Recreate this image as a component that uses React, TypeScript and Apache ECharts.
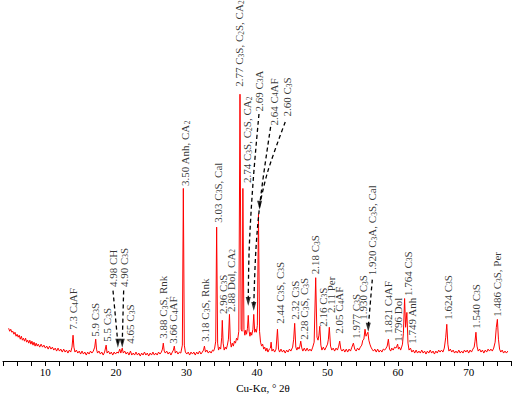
import React, { useEffect, useRef } from "react";
import * as echarts from "echarts";

// Diffractogram, intensity in arbitrary units, 2θ in degrees
const segA: [number, number][] = [
  [4.8, 33], [4.95, 30], [5.1, 32], [5.25, 29], [5.4, 30], [5.55, 27], [5.7, 29], [5.85, 25], [6.0, 27], [6.15, 24],
  [6.3, 26], [6.45, 22], [6.6, 25], [6.75, 21], [6.9, 23], [7.05, 20], [7.2, 23], [7.35, 19], [7.5, 21], [7.65, 18],
  [7.8, 21], [7.95, 17], [8.1, 20], [8.25, 16], [8.4, 19], [8.55, 15], [8.7, 18], [8.85, 15], [9.0, 17], [9.2, 14],
  [9.4, 17], [9.6, 14], [9.8, 16], [10.0, 13], [10.2, 15], [10.4, 12], [10.6, 15], [10.8, 12], [11.0, 14], [11.2, 11],
  [11.4, 13], [11.6, 10], [11.8, 13], [12.0, 10], [12.2, 12], [12.4, 9], [12.6, 12], [12.8, 9], [13.0, 11], [13.2, 8],
  [13.4, 11], [13.6, 9], [13.78, 14], [13.93, 26], [14.05, 14], [14.2, 9], [14.4, 11], [14.6, 8], [14.8, 10], [15.0, 7],
  [15.2, 10], [15.4, 7], [15.6, 9], [15.8, 6], [16.0, 9], [16.2, 7], [16.4, 10], [16.6, 8], [16.8, 10], [17.0, 14],
  [17.14, 22], [17.25, 12], [17.4, 8], [17.6, 10], [17.8, 7], [18.0, 9], [18.2, 6], [18.4, 9], [18.62, 16], [18.75, 8],
  [18.95, 10], [19.15, 7], [19.35, 9], [19.55, 6], [19.75, 9], [19.95, 7],
];
const segB: [number, number][] = [
  [20.15, 9], [20.35, 8], [20.55, 12], [20.7, 8], [20.9, 13], [21.05, 8], [21.25, 10], [21.45, 7], [21.65, 9], [21.85, 6],
  [22.07, 10], [22.25, 6], [22.45, 8], [22.65, 6], [22.85, 9], [23.05, 6], [23.25, 8], [23.45, 5], [23.65, 8], [23.85, 6],
  [24.05, 9], [24.25, 6], [24.45, 8], [24.65, 5], [24.85, 8], [25.05, 6], [25.25, 9], [25.45, 6], [25.65, 8], [25.85, 6],
  [26.05, 9], [26.25, 7], [26.45, 9], [26.6, 12], [26.72, 18], [26.85, 10], [27.0, 8], [27.2, 10], [27.4, 7], [27.6, 9],
  [27.8, 6], [28.0, 9], [28.15, 11], [28.28, 15], [28.42, 8], [28.6, 10], [28.8, 7], [29.0, 9], [29.2, 8], [29.42, 16],
  [29.56, 174], [29.7, 16], [29.85, 9], [30.05, 7], [30.25, 9], [30.45, 6], [30.65, 9], [30.85, 7], [31.05, 9], [31.25, 6],
  [31.45, 9], [31.65, 7], [31.85, 10], [32.05, 7], [32.25, 9], [32.42, 11], [32.55, 15], [32.7, 9], [32.9, 11], [33.1, 8],
  [33.3, 10], [33.5, 8], [33.7, 11], [33.85, 10],
];
const segC: [number, number][] = [
  [34.0, 13], [34.15, 20], [34.28, 135], [34.42, 18], [34.55, 11], [34.7, 14], [34.85, 12], [35.0, 24], [35.08, 41], [35.2, 18],
  [35.35, 11], [35.5, 14], [35.65, 12], [35.8, 16], [35.95, 22], [36.1, 47], [36.22, 20], [36.35, 14], [36.5, 18], [36.65, 15],
  [36.8, 20], [36.95, 18], [37.1, 23], [37.25, 21], [37.42, 30], [37.59, 269], [37.75, 32], [37.88, 30], [38.0, 174], [38.15, 32],
  [38.28, 26], [38.4, 31], [38.52, 27], [38.65, 33], [38.76, 46], [38.88, 30], [39.0, 25], [39.12, 29], [39.25, 26], [39.42, 32],
  [39.54, 47], [39.68, 29], [39.8, 32], [39.92, 29], [40.05, 36], [40.21, 148], [40.36, 30], [40.5, 19], [40.65, 15], [40.8, 17],
  [40.95, 12], [41.1, 14], [41.25, 10], [41.4, 13],
];
const segD: [number, number][] = [
  [41.55, 9], [41.75, 12], [41.9, 13], [42.0, 19], [42.12, 10], [42.3, 12], [42.5, 9], [42.7, 12], [42.9, 32], [43.05, 12],
  [43.2, 9], [43.4, 12], [43.6, 9], [43.8, 11], [44.0, 8], [44.2, 11], [44.4, 9], [44.6, 12], [44.8, 10], [45.05, 14],
  [45.2, 22], [45.34, 38], [45.5, 14], [45.65, 11], [45.8, 14], [45.95, 12], [46.08, 15], [46.2, 20], [46.35, 13], [46.5, 10],
  [46.7, 13], [46.9, 10], [47.1, 13], [47.3, 10], [47.5, 12], [47.7, 10], [47.9, 14], [48.1, 19], [48.32, 84], [48.5, 24],
  [48.65, 21], [48.78, 26], [48.9, 35], [49.05, 16], [49.2, 11], [49.4, 14], [49.6, 11], [49.8, 14], [50.0, 17], [50.12, 22],
  [50.25, 34], [50.42, 15], [50.6, 11], [50.8, 13], [51.0, 10], [51.2, 13], [51.4, 11], [51.58, 15], [51.72, 20], [51.88, 12],
  [52.05, 10], [52.25, 12], [52.45, 9], [52.65, 12], [52.85, 9], [53.05, 12], [53.25, 10], [53.45, 14], [53.66, 18], [53.85, 12],
  [54.05, 10], [54.25, 13], [54.45, 11], [54.65, 14], [54.85, 16], [55.0, 21], [55.15, 22], [55.31, 32], [55.45, 25], [55.58, 27],
  [55.72, 29], [55.85, 21], [56.0, 17], [56.15, 14], [56.3, 12],
];
const segE: [number, number][] = [
  [56.5, 10], [56.7, 12], [56.9, 9], [57.1, 12], [57.3, 9], [57.5, 11], [57.7, 9], [57.9, 12], [58.1, 11], [58.3, 13],
  [58.45, 15], [58.62, 22], [58.78, 12], [58.95, 10], [59.1, 13], [59.3, 11], [59.5, 14], [59.7, 13], [59.82, 15], [59.93, 17],
  [60.05, 12], [60.2, 14], [60.35, 11], [60.5, 14], [60.62, 17], [60.75, 28], [60.92, 63], [61.06, 34], [61.24, 49], [61.4, 18],
  [61.55, 11], [61.75, 13], [61.95, 9], [62.15, 11], [62.35, 8], [62.55, 11], [62.75, 8], [62.95, 10], [63.15, 8], [63.35, 11],
  [63.55, 8], [63.75, 10], [63.95, 7], [64.15, 10], [64.35, 8], [64.55, 11], [64.75, 8], [64.95, 10], [65.15, 7], [65.35, 10],
  [65.55, 8], [65.75, 11], [65.95, 9], [66.15, 11], [66.35, 9], [66.55, 13], [66.75, 24], [66.9, 37], [67.05, 17], [67.2, 10],
  [67.4, 12], [67.6, 9], [67.8, 11], [68.0, 8], [68.2, 10], [68.4, 8], [68.6, 11], [68.8, 8], [69.0, 10], [69.2, 8],
  [69.4, 11], [69.6, 9], [69.8, 11], [70.0, 8], [70.2, 11], [70.4, 9], [70.6, 12], [70.78, 14], [70.9, 20], [71.03, 29],
  [71.18, 15], [71.35, 10], [71.55, 12], [71.75, 9], [71.95, 11], [72.15, 8], [72.35, 11], [72.55, 9], [72.75, 12], [72.95, 10],
  [73.15, 12], [73.35, 10], [73.55, 13], [73.75, 19], [73.92, 34], [74.07, 42], [74.22, 22], [74.38, 12], [74.55, 9], [74.75, 11],
  [74.95, 8], [75.15, 10], [75.35, 8], [75.55, 10],
];

// Peak annotations: [text, 2θ, height where the text starts]
const peakLabels: [string, number, number][] = [
  ["7.3 C₄AF", 13.93, 31],
  ["5.9 C₃S", 17.03, 24],
  ["5.5 C₃S", 18.76, 19],
  ["4.98 CH", 19.59, 74],
  ["4.90 C₃S", 21.1, 74],
  ["4.65 C₃S", 22.07, 17],
  ["3.88 C₃S, Rnk", 26.69, 22],
  ["3.66 C₄AF", 28.14, 17],
  ["3.50 Anh, CA₂", 29.8, 176],
  ["3.18 C₃S, Rnk", 32.69, 19],
  ["3.03 C₃S, Cal", 34.41, 139],
  ["2.96 C₃S", 35.17, 47],
  ["2.88 Dol, CA₂", 36.28, 49],
  ["2.77 C₃S, C₂S, CA₂", 37.45, 276],
  ["2.74 C₃S, C₂S, CA₂", 38.62, 179],
  ["2.69 C₃A", 40.28, 251],
  ["2.64 C₄AF", 42.34, 237],
  ["2.60 C₃S", 44.28, 246],
  ["2.44 C₃S, C₃S", 43.24, 37],
  ["2.32 C₃S", 45.38, 41],
  ["2.28 C₃S, C₃S", 46.69, 21],
  ["2.18 C₃S", 48.28, 87],
  ["2.16 C₃S", 49.31, 34],
  ["2.11 Per", 50.48, 48],
  ["2.05 C₄AF", 51.66, 27],
  ["1.977 C₃S", 54.0, 22],
  ["1.930 C₃S", 55.03, 41],
  ["1.920 C₃A, C₃S, Cal", 56.34, 86],
  ["1.821 C₄AF", 58.55, 27],
  ["1.796 Dol", 59.93, 19],
  ["1.764 C₃S", 61.38, 65],
  ["1.749 Anh", 61.93, 17],
  ["1.624 C₃S", 67.03, 41],
  ["1.540 C₃S", 70.97, 32],
  ["1.486 C₃S, Per", 74.07, 44],
];

// Dashed leader lines (2θ, height); last point is where the arrow head sits
const leader498: [number, number][] = [[19.59, 71], [20.28, 18]];
const leader490: [number, number][] = [[21.1, 71], [20.9, 18]];
const leader269: [number, number][] = [[40.28, 249], [39.45, 181], [38.9, 114], [38.76, 60]];
const leader264: [number, number][] = [[41.93, 236], [40.55, 167], [39.86, 114], [39.54, 55]];
const leader260: [number, number][] = [[44.0, 241], [41.52, 191], [40.37, 157]];
const leader1920: [number, number][] = [[56.34, 82], [55.77, 34]];
const leaders = [leader498, leader490, leader269, leader264, leader260, leader1920];

const xTickLabels = [10, 20, 30, 40, 50, 60, 70];
const FONT = '"Liberation Serif", "Times New Roman", serif';

const toRich = (s: string) =>
  s.replace(/[\u2080-\u2089]/g, (d) => `{s|${d.charCodeAt(0) - 0x2080}}`);

export default function App() {
  const ref = useRef<HTMLDivElement>(null);
  useEffect(() => {
    const chart = echarts.init(ref.current!, null, { renderer: "svg" });
    const pattern = [...segA, ...segB, ...segC, ...segD, ...segE];
    const leaderSeries = leaders.map((pts) => ({
      type: "line",
      data: pts,
      smooth: 0.35,
      symbol: "none",
      silent: true,
      z: 4,
      lineStyle: { color: "#000", width: 1.3, type: [4, 3] },
    }));
    chart.setOption({
      animation: false,
      grid: { left: -2, width: 522, top: 0, bottom: 34 },
      xAxis: {
        type: "value",
        min: 4,
        max: 76,
        interval: 2,
        name: "Cu-Kα, ° 2θ",
        nameLocation: "middle",
        nameGap: 21,
        nameTextStyle: { fontFamily: FONT, fontSize: 11, color: "#000", padding: [0, 0, 0, 12] },
        axisLine: { show: true, lineStyle: { color: "#000", width: 1 } },
        axisTick: { show: true, length: 5, inside: false, lineStyle: { color: "#000" } },
        axisLabel: {
          fontFamily: FONT,
          fontSize: 11,
          color: "#000",
          margin: 5,
          formatter: (v: number) => (xTickLabels.includes(v) ? String(v) : ""),
        },
        splitLine: { show: false },
      },
      yAxis: { type: "value", min: 0, max: 364, show: false },
      series: [
        {
          type: "line",
          data: pattern,
          symbol: "none",
          silent: true,
          z: 3,
          lineStyle: { color: "#ff0000", width: 1 },
        },
        ...leaderSeries,
        {
          type: "scatter",
          silent: true,
          z: 5,
          data: leaders.map((pts) => pts[pts.length - 1]),
          symbol: "triangle",
          symbolSize: [5, 9],
          symbolRotate: 180,
          itemStyle: { color: "#000" },
        },
        {
          type: "scatter",
          silent: true,
          z: 6,
          symbolSize: 1,
          itemStyle: { color: "rgba(0,0,0,0)" },
          data: peakLabels.map(([t, x, y]) => ({ name: t, value: [x, y] })),
          label: {
            show: true,
            formatter: (p: any) => toRich(p.name),
            position: "top",
            distance: 0,
            rotate: 90,
            align: "left",
            verticalAlign: "middle",
            fontFamily: FONT,
            fontSize: 11,
            lineHeight: 12,
            color: "#000",
            rich: {
              s: { fontFamily: FONT, fontSize: 7.5, lineHeight: 6, verticalAlign: "bottom", color: "#000" },
            },
          },
        },
      ],
    });
    return () => chart.dispose();
  }, []);
  return (
    <div
      ref={ref}
      style={{ position: "fixed", left: 0, top: 0, width: 514, height: 398, background: "#fff" }}
    />
  );
}
